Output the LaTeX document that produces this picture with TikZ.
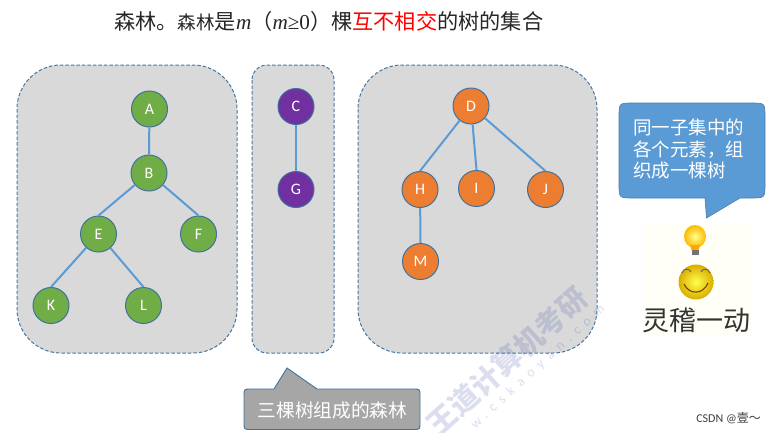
\documentclass[tikz,border=0pt]{standalone}
\usepackage{fontspec}
\setmainfont{Carlito}
\newfontfamily\cjk{Noto Sans CJK SC}
\newfontfamily\timesf{Liberation Serif}
\usetikzlibrary{shapes.geometric,calc}
\definecolor{edgeb}{HTML}{5B9BD5}
\definecolor{ringb}{HTML}{41719C}
\definecolor{grn}{HTML}{70AD47}
\definecolor{pur}{HTML}{7030A0}
\definecolor{org}{HTML}{ED7D31}
\definecolor{panel}{HTML}{D9D9D9}
\definecolor{wm}{HTML}{2B3F9E}
\tikzset{
 panelbox/.style={fill=panel,draw=ringb!85!edgeb,dash pattern=on 3.5pt off 2pt,line width=1pt},
 vert/.style={circle,minimum size=36pt,inner sep=0pt,draw=ringb,line width=1pt,text=white,font=\fontsize{16}{16}\selectfont},
 gv/.style={vert,fill=grn},
 pv/.style={vert,fill=pur},
 ov/.style={vert,fill=org},
 tedge/.style={edgeb,line width=2pt},
}
\begin{document}
\begin{tikzpicture}[x=1pt,y=-1pt]
\useasboundingbox (0,0) rectangle (775,432);
\fill[white] (0,0) rectangle (775,432);
% title
\node[anchor=west,inner sep=0pt,text=black!85] (title) at (114,21) {\fontsize{21.2}{21.2}\selectfont\cjk 森林。{\fontsize{18.5}{18.5}\selectfont 森林}是{\timesf\itshape m}（{\timesf\itshape m}{\timesf≥0}）棵\textcolor{red}{互不相交}的树的集合};
% panels
\draw[panelbox,rounded corners=44pt] (17,65) rectangle (237,353);
\draw[panelbox,rounded corners=15pt] (252,65) rectangle (334,353);
\draw[panelbox,rounded corners=44pt] (358,65) rectangle (597,353);
% watermark
\node[rotate=42,text=wm,opacity=.17,inner sep=0pt] (wma) at (507,361) {\fontsize{29}{29}\selectfont\cjk\bfseries 王道计算机考研};
\node[rotate=42.5,text=wm,opacity=.17,inner sep=0pt] (wmb) at (538,367) {\fontsize{14}{14}\selectfont w\hspace{4pt}.\hspace{6.5pt}c\hspace{6.5pt}s\hspace{6.5pt}k\hspace{6.5pt}a\hspace{6.5pt}o\hspace{6.5pt}y\hspace{6.5pt}a\hspace{6.5pt}n\hspace{6.5pt}.\hspace{6.5pt}c\hspace{6.5pt}o\hspace{6.5pt}m};
% tree 1
\node[gv] (A) at (149.5,109) {A};
\node[gv] (B) at (149,173) {B};
\node[gv] (E) at (98.5,234) {E};
\node[gv] (F) at (198.5,234) {F};
\node[gv] (K) at (51,305.5) {K};
\node[gv] (L) at (143.5,305.5) {L};
\draw[tedge] (A)--(B.north);
\draw[tedge] (B)--(E.north);
\draw[tedge] (B)--(F.north);
\draw[tedge] (E)--(K.north);
\draw[tedge] (E)--(L.north);
% tree 2
\node[pv] (C) at (296,106.5) {C};
\node[pv] (G) at (296,189.5) {G};
\draw[tedge] (C)--(G.north);
% tree 3
\node[ov] (D) at (471,106) {D};
\node[ov] (H) at (420,189.5) {H};
\node[ov] (I) at (476.5,188.5) {I};
\node[ov] (J) at (545.5,189.5) {J};
\node[ov] (M) at (420.5,261.5) {M};
\draw[tedge] (D)--(H.north);
\draw[tedge] (D)--(I.north);
\draw[tedge] (D)--(J.north);
\draw[tedge] (H)--(M.north);
% callout blue
\draw[fill=edgeb,draw=ringb!70!edgeb,line width=.6pt]
 (633,103) -- (751,103) .. controls (765,103) .. (765,117) -- (765,184)
 .. controls (765,198) .. (751,198) -- (740,198) -- (706.5,218) -- (705,198)
 -- (633,198) .. controls (619,198) .. (619,184) -- (619,117)
 .. controls (619,103) .. (633,103) -- cycle;
\node[anchor=north west,inner sep=0pt,text=white,align=left,font=\fontsize{18.5}{21.5}\selectfont\cjk] (say) at (633,119) {同一子集中的\\各个元素，组\\织成一棵树};
% sticker background
\fill[yellow!3!white] (643,223) rectangle (752,336);
% bulb
\shade[inner color=yellow!45!white,outer color=orange!55!yellow] (695,236.5) ellipse (11pt and 11.5pt);
\fill[orange!70!yellow] (690,245) -- (700,245) -- (698.5,250) -- (691.5,250) -- cycle;
\fill[black!55] (691.5,249.5) rectangle (698.5,255);
% smiley
\shade[inner color=yellow!70!white,outer color=yellow!60!orange!85!black] (696,282) ellipse (17.5pt and 17.5pt);
\draw[orange!50!black,line width=1.1pt] (684,284) .. controls (689,295) and (703,295) .. (708,283);
\draw[black!60,line width=1pt] (682,273) .. controls (684,268) and (689,268) .. (691,272);
\draw[black!60,line width=1pt] (701,272) .. controls (703,268) and (708,268) .. (710,273);
\node[inner sep=0pt,text=black!80] (ling) at (696,320) {\fontsize{27}{27}\selectfont\cjk 灵稽一动};
% gray callout
\draw[fill=black!35,draw=ringb,line width=.9pt]
 (251,389) -- (274,389) -- (287,368) -- (317,389) -- (413,389)
 .. controls (420,389) .. (420,396) -- (420,422.5)
 .. controls (420,429.5) .. (413,429.5) -- (251,429.5)
 .. controls (244,429.5) .. (244,422.5) -- (244,396)
 .. controls (244,389) .. (251,389) -- cycle;
\node[inner sep=0pt,text=white] (sanke) at (332.5,410) {\fontsize{18.7}{18.7}\selectfont\cjk 三棵树组成的森林};
% credit
\node[anchor=east,inner sep=0pt,text=black!75] (csdn) at (761,418) {\fontsize{12}{12}\selectfont CSDN @{\cjk 壹～}};
\end{tikzpicture}
\end{document}
